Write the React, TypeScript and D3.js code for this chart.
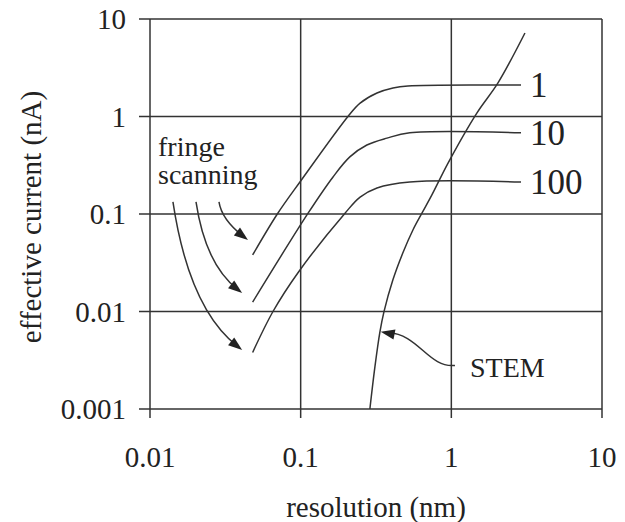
import React from "react";
import * as d3 from "d3";

// axis ticks
const xTicks = [0.01, 0.1, 1, 10];
const xTickLabels = ["0.01", "0.1", "1", "10"];
const yTicks = [0.001, 0.01, 0.1, 1, 10];
const yTickLabels = ["0.001", "0.01", "0.1", "1", "10"];

// fringe scanning curves (resolution nm, current nA)
const fringe1X = [0.048, 0.07, 0.1, 0.206, 0.248, 0.321, 0.41, 0.515, 2.9];
const fringe1Y = [0.038, 0.1, 0.218, 1, 1.37, 1.74, 1.96, 2.06, 2.1];
const fringe10X = [0.048, 0.112, 0.164, 0.212, 0.275, 0.374, 0.53, 2.9];
const fringe10Y = [0.0125, 0.102, 0.24, 0.385, 0.51, 0.6, 0.68, 0.68];
const fringe100X = [0.048, 0.0655, 0.096, 0.197, 0.248, 0.321, 0.53, 2.9];
const fringe100Y = [0.0038, 0.01, 0.025, 0.102, 0.149, 0.185, 0.213, 0.213];
const fringeNames = ["1", "10", "100"];

// STEM curve
const stemX = [0.288, 0.311, 0.336, 0.357, 0.409, 0.477, 0.556, 0.638, 0.743, 0.951, 1.48, 2.04, 3.08];
const stemY = [0.001, 0.0027, 0.0062, 0.0099, 0.021, 0.04, 0.0686, 0.102, 0.157, 0.333, 1.09, 2.21, 7.18];

// annotations (data coords)
const fringeText = ["fringe", "scanning"];
const fringeTextAt = [0.0113, 0.395];
const fringeArrowFrom = [[0.0287, 0.133], [0.0202, 0.133], [0.0142, 0.133]];
const fringeArrowTo = [[0.0447, 0.054], [0.0409, 0.0155], [0.0409, 0.00403]];
const stemArrowFrom = [1.057, 0.0028];
const stemArrowTo = [0.34, 0.0062];
const stemTextAt = [1.33, 0.0027];

const W = 625;
const H = 522;
const margin = { left: 150, right: 23, top: 19, bottom: 113 };
const ink = "#222";
const lineInk = "#333";
const font = "'Liberation Serif', 'Times New Roman', serif";

const zip = (xs: number[], ys: number[]) => xs.map((x, i) => [x, ys[i]] as [number, number]);

export default function App() {
  const x = d3.scaleLog().domain([0.01, 10]).range([margin.left, W - margin.right]);
  const y = d3.scaleLog().domain([0.001, 10]).range([H - margin.bottom, margin.top]);

  const line = d3
    .line<[number, number]>()
    .x((d) => x(d[0]))
    .y((d) => y(d[1]))
    .curve(d3.curveCatmullRom.alpha(0.5));

  const fringe = [zip(fringe1X, fringe1Y), zip(fringe10X, fringe10Y), zip(fringe100X, fringe100Y)];
  const stem = zip(stemX, stemY);

  // arrowhead triangle pointing along (dx,dy) at tip
  const head = (tx: number, ty: number, dx: number, dy: number) => {
    const len = Math.hypot(dx, dy);
    const ux = dx / len, uy = dy / len;
    const L = 14, Wd = 5;
    const bx = tx - ux * L, by = ty - uy * L;
    return `M${tx},${ty}L${bx - uy * Wd},${by + ux * Wd}L${bx + uy * Wd},${by - ux * Wd}Z`;
  };

  const [x0, x1] = x.range();
  const [y0, y1] = y.range();

  return (
    <svg width={W} height={H} style={{ position: "absolute", left: 0, top: 0, background: "#fff" }}>
      {/* grid */}
      <g stroke={lineInk} strokeWidth={1.5} fill="none">
        {yTicks.map((t) => (
          <line key={"gy" + t} x1={x0 - 11} x2={x1} y1={y(t)} y2={y(t)} />
        ))}
        {xTicks.map((t) => (
          <line key={"gx" + t} x1={x(t)} x2={x(t)} y1={y1} y2={y0 + 9} />
        ))}
      </g>

      {/* tick labels */}
      <g fontFamily={font} fontSize={29} fill={ink}>
        {yTicks.map((t, i) => (
          <text key={"ly" + t} x={x0 - 24} y={y(t)} dy="0.35em" textAnchor="end">
            {yTickLabels[i]}
          </text>
        ))}
        {xTicks.map((t, i) => (
          <text key={"lx" + t} x={x(t)} y={467} textAnchor="middle">
            {xTickLabels[i]}
          </text>
        ))}
        <text x={(x0 + x1) / 2} y={517} textAnchor="middle">
          resolution (nm)
        </text>
        <text transform={`translate(41,${(y0 + y1) / 2 + 3}) rotate(-90)`} textAnchor="middle">
          effective current (nA)
        </text>
      </g>

      {/* curves */}
      <g fill="none" stroke={lineInk} strokeWidth={1.5}>
        {fringe.map((s, i) => (
          <path key={"f" + i} d={line(s) ?? ""} />
        ))}
        <path d={line(stem) ?? ""} />
      </g>

      {/* curve labels */}
      <g fontFamily={font} fontSize={35} fill={ink}>
        {fringe.map((s, i) => {
          const last = s[s.length - 1];
          return (
            <text key={"n" + i} x={x(last[0]) + 9} y={y(last[1])} dy="0.35em">
              {fringeNames[i]}
            </text>
          );
        })}
      </g>

      {/* fringe scanning annotation */}
      <g fontFamily={font} fontSize={28} fill={ink}>
        {fringeText.map((t, i) => (
          <text key={t} x={x(fringeTextAt[0])} y={y(fringeTextAt[1]) + i * 28}>
            {t}
          </text>
        ))}
      </g>
      {fringeArrowFrom.map((f, i) => {
        const sx = x(f[0]), sy = y(f[1]);
        const tx = x(fringeArrowTo[i][0]), ty = y(fringeArrowTo[i][1]);
        // control point: start heading down, end heading ~38deg down-right
        const a = (38 * Math.PI) / 180;
        const ca = Math.cos(a), sa = Math.sin(a);
        const k = 0.15;
        const s = (tx - sx - k * (ty - sy)) / (ca - k * sa);
        const t = ty - sy - sa * s;
        const cx = sx + k * t, cy = sy + t;
        const hx = tx - ca * 6, hy = ty - sa * 6;
        return (
          <g key={"fa" + i}>
            <path d={`M${sx},${sy}Q${cx},${cy} ${hx},${hy}`} fill="none" stroke={lineInk} strokeWidth={1.5} />
            <path d={head(tx, ty, ca, sa)} fill={ink} />
          </g>
        );
      })}

      {/* STEM annotation */}
      {(() => {
        const sx = x(stemArrowFrom[0]), sy = y(stemArrowFrom[1]);
        const tx = x(stemArrowTo[0]), ty = y(stemArrowTo[1]);
        const dx = tx - sx;
        const c1x = sx + dx * 0.35, c1y = sy + 3;
        const c2x = sx + dx * 0.5, c2y = ty + 2;
        const ex = tx + 8, ey = ty + 1;
        return (
          <g>
            <path d={`M${sx},${sy}C${c1x},${c1y} ${c2x},${c2y} ${ex},${ey}`} fill="none" stroke={lineInk} strokeWidth={1.5} />
            <path d={head(tx, ty, -1, -0.2)} fill={ink} />
            <text x={x(stemTextAt[0])} y={y(stemTextAt[1])} dy="0.35em" fontFamily={font} fontSize={28} fill={ink}>
              STEM
            </text>
          </g>
        );
      })()}
    </svg>
  );
}
